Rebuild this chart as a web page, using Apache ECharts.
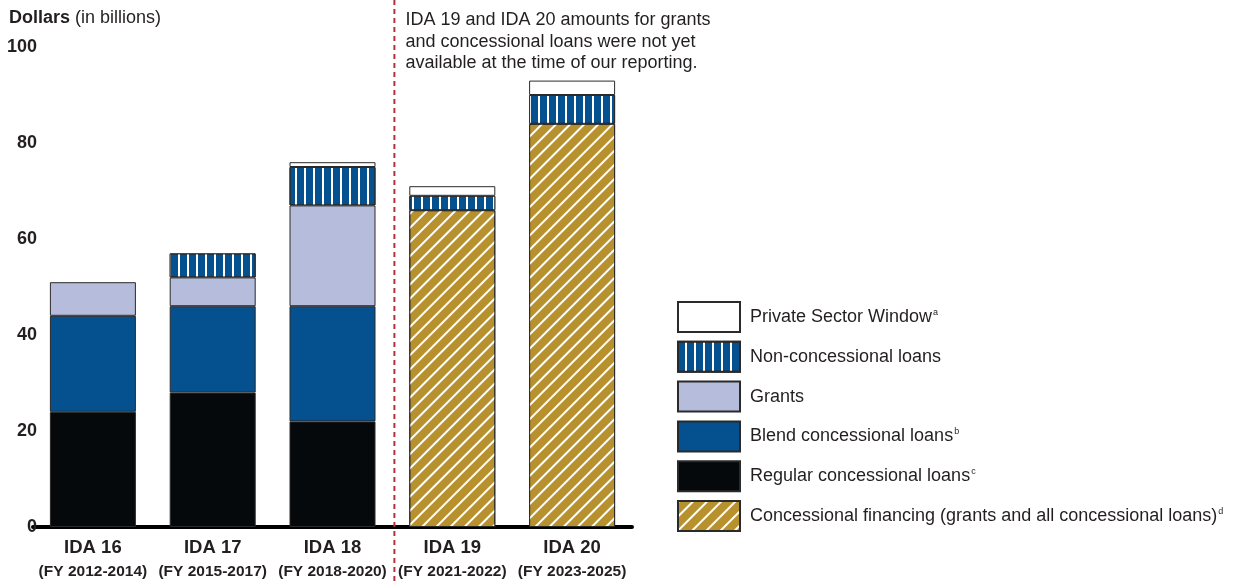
<!DOCTYPE html>
<html>
<head>
<meta charset="utf-8">
<script src="https://cdn.jsdelivr.net/npm/echarts@6/dist/echarts.min.js"></script>
<style>
html,body{margin:0;padding:0;background:#fff;}
#chart{width:1237px;height:584px;}
</style>
</head>
<body>
<div id="chart"></div>
<script>
var categories = ['IDA 16', 'IDA 17', 'IDA 18', 'IDA 19', 'IDA 20'];
var periods = ['(FY 2012-2014)', '(FY 2015-2017)', '(FY 2018-2020)', '(FY 2021-2022)', '(FY 2023-2025)'];
var regularLoans = [24, 28, 22, '-', '-'];
var blendLoans = [20, 18, 24, '-', '-'];
var grants = [7, 6, 21, '-', '-'];
var concessionalFinancing = ['-', '-', '-', 66, 84];
var nonConcessional = ['-', 5, 8, 3, 6];
var privateSector = ['-', '-', 1, 2, 3];
var yTicks = [0, 20, 40, 60, 80, 100];

var names = {
  psw: 'Private Sector Window',
  nc: 'Non-concessional loans',
  gr: 'Grants',
  bl: 'Blend concessional loans',
  rg: 'Regular concessional loans',
  cf: 'Concessional financing (grants and all concessional loans)'
};
var sups = {};
sups[names.psw] = 'a';
sups[names.bl] = 'b';
sups[names.rg] = 'c';
sups[names.cf] = 'd';

var FONT = 'Liberation Sans';
var border = {borderColor: '#2a2a2a', borderWidth: 1};
function mk(name, data, style) {
  return {
    name: name, type: 'bar', stack: 'total', data: data, barWidth: 86,
    itemStyle: Object.assign({}, border, style),
    emphasis: {disabled: true}
  };
}

var chart = echarts.init(document.getElementById('chart'));
var option = {
  animation: false,
  backgroundColor: '#fff',
  textStyle: {fontFamily: FONT},
  title: {
    text: '{b|Dollars} {n|(in billions)}',
    left: 9, top: 9, padding: 0,
    textStyle: {
      fontWeight: 'normal',
      rich: {
        b: {fontSize: 18, fontWeight: 'bold', color: '#231f20', fontFamily: FONT},
        n: {fontSize: 18, fontWeight: 'normal', color: '#231f20', fontFamily: FONT}
      }
    }
  },
  grid: {left: 33, right: 605, top: 47, bottom: 57, containLabel: false},
  xAxis: {
    type: 'category',
    data: categories,
    axisLine: {lineStyle: {color: '#000', width: 4}},
    axisTick: {show: false},
    axisLabel: {
      margin: 9,
      interval: 0,
      formatter: function (v, i) { return '{a|' + v + '}\n{b|' + periods[i] + '}'; },
      rich: {
        a: {fontSize: 18.5, fontWeight: 'bold', color: '#231f20', lineHeight: 24, fontFamily: FONT},
        b: {fontSize: 15.5, fontWeight: 'bold', color: '#231f20', lineHeight: 24, fontFamily: FONT}
      }
    }
  },
  yAxis: {
    type: 'value',
    min: yTicks[0], max: yTicks[yTicks.length - 1], interval: 20,
    axisLine: {show: false},
    axisTick: {show: false},
    splitLine: {show: false},
    axisLabel: {
      margin: -4,
      fontSize: 18, fontWeight: 'bold', color: '#231f20', fontFamily: FONT
    }
  },
  legend: {
    orient: 'vertical',
    left: 677, top: 301, padding: 0,
    itemWidth: 62, itemHeight: 30, itemGap: 7.8,
    icon: 'rect',
    selectedMode: false,
    data: [names.psw, names.nc, names.gr, names.bl, names.rg, names.cf],
    formatter: function (n) {
      return '{t|' + n + '}' + (sups[n] ? '{s|' + sups[n] + '}' : '');
    },
    textStyle: {
      rich: {
        t: {fontSize: 18, color: '#231f20', padding: [0, 0, 0, 5], fontFamily: FONT},
        s: {fontSize: 9, color: '#231f20', verticalAlign: 'top', padding: [0, 0, 9, 1], fontFamily: FONT}
      }
    }
  },
  series: [
    mk(names.rg, regularLoans, {color: '#05090c'}),
    mk(names.bl, blendLoans, {color: '#05508f'}),
    mk(names.gr, grants, {color: '#b6bcdb'}),
    mk(names.cf, concessionalFinancing, {
      color: '#b8912f',
      decal: {symbol: 'rect', symbolSize: 1, dashArrayX: [1, 0], dashArrayY: [1.8, 8], rotation: -Math.PI / 4, color: '#ffffff'}
    }),
    mk(names.nc, nonConcessional, {
      color: '#05508f',
      decal: {symbol: 'rect', symbolSize: 1, dashArrayX: [1, 0], dashArrayY: [1.3, 6.3], rotation: Math.PI / 2, color: '#ffffff'}
    }),
    mk(names.psw, privateSector, {color: '#ffffff'})
  ]
};
chart.setOption(option);

var c2 = chart.convertToPixel({xAxisIndex: 0}, categories[2]);
var c3 = chart.convertToPixel({xAxisIndex: 0}, categories[3]);
var xDiv = (c2 + c3) / 2 + 2;
chart.setOption({
  graphic: [
    {
      type: 'line', z: 10,
      shape: {x1: xDiv, y1: 0, x2: xDiv, y2: 584},
      style: {stroke: '#b5323d', lineWidth: 2, lineDash: [5, 4]}
    },
    {
      type: 'text', left: xDiv + 11, top: 9, z: 10,
      style: {
        text: 'IDA 19 and IDA 20 amounts for grants\nand concessional loans were not yet\navailable at the time of our reporting.',
        font: '18px "Liberation Sans"',
        lineHeight: 21.7,
        fill: '#231f20'
      }
    }
  ]
});
</script>
</body>
</html>
